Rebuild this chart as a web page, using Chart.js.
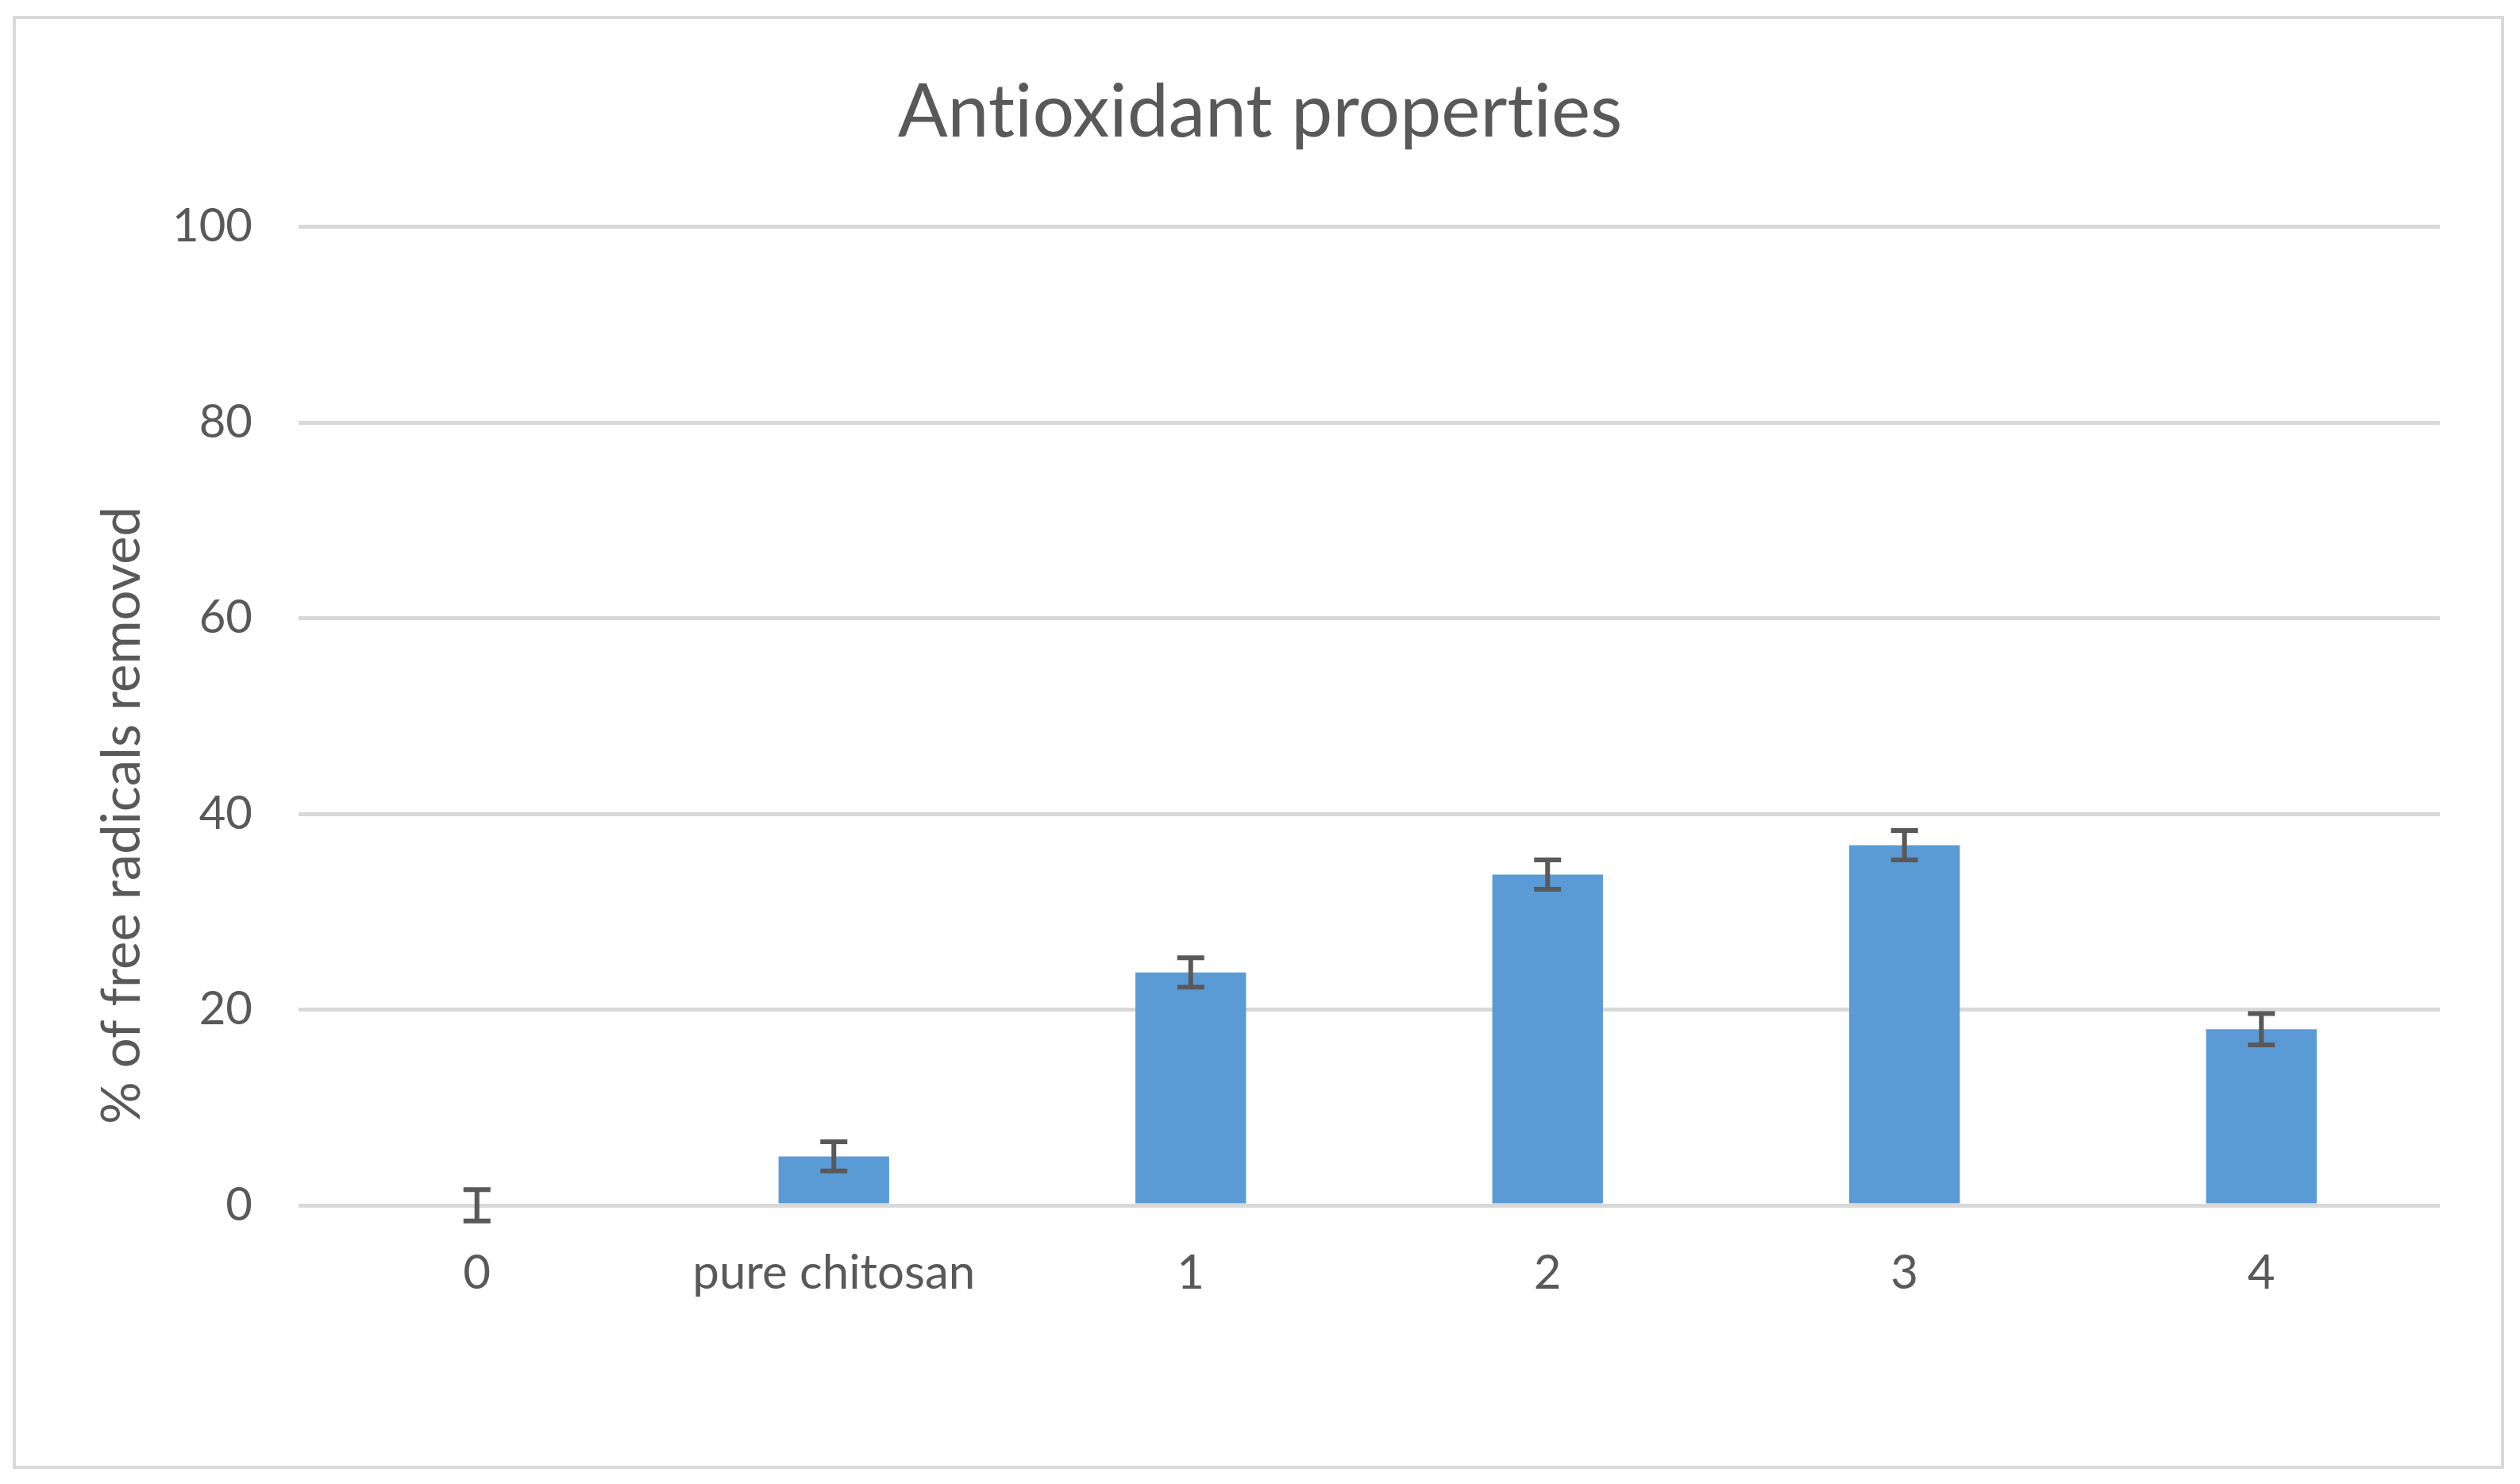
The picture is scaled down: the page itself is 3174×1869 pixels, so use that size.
<!DOCTYPE html>
<html>
<head>
<meta charset="utf-8">
<script src="https://cdn.jsdelivr.net/npm/chart.js@4"></script>
<style>
  html, body { margin: 0; padding: 0; background: #fff; }
  #wrap { width: 3174px; height: 1869px; }
</style>
</head>
<body>
<div id="wrap"><canvas id="myChart" width="3174" height="1869"></canvas></div>
<script>
const categories = ['0', 'pure chitosan', '1', '2', '3', '4'];
const removed = [0, 5, 23.8, 33.8, 36.8, 18];
const errors = [1.6, 1.5, 1.5, 1.5, 1.5, 1.6];
const yTicks = [0, 20, 40, 60, 80, 100];

const textColor = '#595959';
const gridColor = '#d9d9d9';

// error bars, drawn with the y scale
const errorBars = {
  id: 'errorBars',
  afterDatasetsDraw(chart) {
    const ctx = chart.ctx;
    const y = chart.scales.y;
    const meta = chart.getDatasetMeta(0);
    ctx.save();
    ctx.strokeStyle = '#595959';
    ctx.lineWidth = 6;
    meta.data.forEach(function(bar, i) {
      const top = y.getPixelForValue(removed[i] + errors[i]);
      const bottom = y.getPixelForValue(removed[i] - errors[i]);
      const cap = 17;
      ctx.beginPath();
      ctx.moveTo(bar.x, top);
      ctx.lineTo(bar.x, bottom);
      ctx.moveTo(bar.x - cap, top);
      ctx.lineTo(bar.x + cap, top);
      ctx.moveTo(bar.x - cap, bottom);
      ctx.lineTo(bar.x + cap, bottom);
      ctx.stroke();
    });
    ctx.restore();
  }
};

// outer frame + rotated axis title
const frame = {
  id: 'frame',
  beforeDraw(chart) {
    const ctx = chart.ctx;
    ctx.save();
    ctx.fillStyle = '#fff';
    ctx.fillRect(0, 0, chart.width, chart.height);
    ctx.strokeStyle = gridColor;
    ctx.lineWidth = 4;
    ctx.strokeRect(18, 22, 3134, 1826);
    ctx.restore();
    ctx.textRendering = 'optimizeSpeed'; // no "ti" ligature
  },
  afterDraw(chart) {
    const ctx = chart.ctx;
    ctx.save();
    ctx.translate(154, 1027);
    ctx.rotate(-Math.PI / 2);
    ctx.fillStyle = textColor;
    ctx.font = '67px Lato';
    ctx.textAlign = 'center';
    ctx.textBaseline = 'middle';
    ctx.fillText('% of free radicals removed', 0, 0);
    ctx.restore();
  }
};

const ctx = document.getElementById('myChart').getContext('2d');
const chart = new Chart(ctx, {
  type: 'bar',
  data: {
    labels: categories,
    datasets: [{
      label: 'Antioxidant properties',
      data: removed,
      backgroundColor: '#5b9bd5',
      barPercentage: 0.62,
      categoryPercentage: 0.5
    }]
  },
  options: {
    responsive: false,
    animation: false,
    layout: { padding: { left: 101, right: 101, top: 0, bottom: 0 } },
    plugins: {
      legend: { display: false },
      tooltip: { enabled: false },
      title: {
        display: true,
        text: 'Antioxidant properties',
        color: textColor,
        font: { family: 'Lato', size: 93, weight: 'normal' },
        padding: { top: 86, bottom: 88 }
      }
    },
    scales: {
      x: {
        grid: { display: false },
        border: { display: false },
        ticks: {
          color: textColor,
          font: { family: 'Lato', size: 60 },
          padding: 42,
          maxRotation: 0
        },
        afterFit(scale) { scale.height = 1869 - 1518; }
      },
      y: {
        min: 0,
        max: 100,
        afterBuildTicks(scale) { scale.ticks = yTicks.map(v => ({ value: v })); },
        grid: { color: gridColor, lineWidth: 5, drawTicks: false },
        border: { display: false },
        ticks: {
          color: textColor,
          font: { family: 'Lato', size: 58 },
          padding: 58
        },
        afterFit(scale) { scale.width = 376 - 101; }
      }
    }
  },
  plugins: [frame, errorBars]
});
</script>
</body>
</html>
